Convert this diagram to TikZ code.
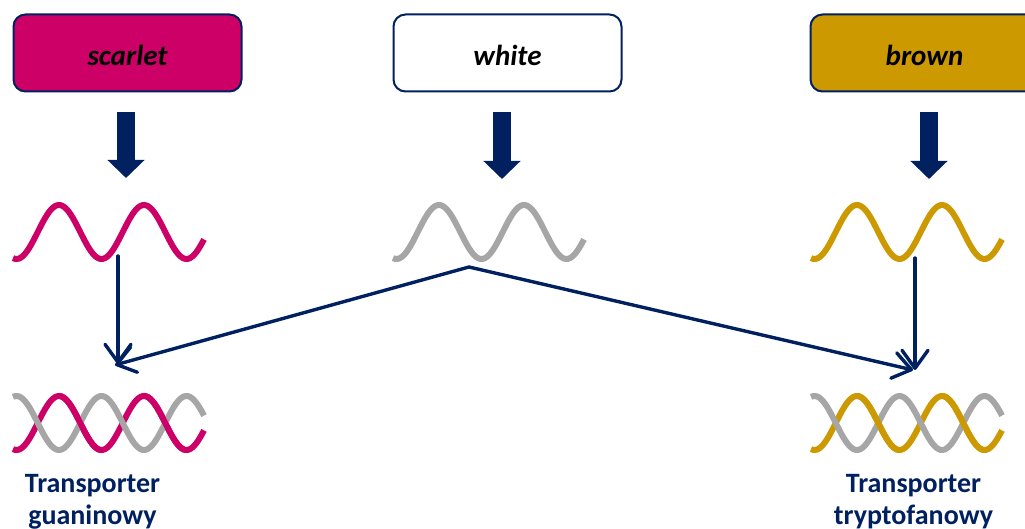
\documentclass[tikz,border=0pt]{standalone}
\usepackage{fontspec}
\setmainfont{Carlito}
\usetikzlibrary{arrows.meta}
\definecolor{scarletC}{HTML}{CC0066}
\definecolor{brownC}{HTML}{CC9900}
\definecolor{greyC}{HTML}{A6A6A6}
\definecolor{navyC}{HTML}{002060}
% one sine-like strand: #1 style, #2 left x, #3 centre line y, #4 +1/-1 phase
% period 85, so 360/85 = 4.235294 degrees per unit
\newcommand\dnastrand[4]{%
  \draw[#1] plot[domain=0:191, samples=97, smooth]
    ({#2+\x},{#3+#4*27*cos(4.235294*(\x-173.5))});}
\begin{document}
\begin{tikzpicture}[x=1pt,y=-1pt,
  gene/.style={draw=navyC, line width=2pt, rounded corners=12pt,
    minimum width=228pt, minimum height=77pt, inner sep=0pt,
    font=\fontsize{29}{34}\selectfont\bfseries\itshape,
    text height=26pt, text depth=0pt},
  blockarrow/.style={draw=navyC, line width=18pt,
    -{Triangle[length=18pt, width=36pt]}},
  link/.style={draw=navyC, line width=3.4pt, line cap=round,
    -{Straight Barb[length=18pt, width=26pt, round]}},
  wave/.style={line width=6pt},
  caption/.style={text=navyC, anchor=north, align=center, inner sep=0pt,
    font=\fontsize{28}{32}\selectfont\bfseries}
]
\useasboundingbox (0,0) rectangle (1025,529);
\clip (0,0) rectangle (1025,529);

% gene boxes
\node[gene, fill=scarletC] (scarlet) at (127.5,53) {scarlet};
\node[gene, fill=white]    (white)   at (507.5,53) {white};
\node[gene, fill=brownC]   (brown)   at (924.5,53) {brown};

% expression arrows
\coordinate (sA) at (126,112); \coordinate (sB) at (126,178);
\coordinate (wA) at (502,112); \coordinate (wB) at (502,179);
\coordinate (bA) at (929,112); \coordinate (bB) at (929,179);
\draw[blockarrow] (sA) -- (sB);
\draw[blockarrow] (wA) -- (wB);
\draw[blockarrow] (bA) -- (bB);

% single products
\dnastrand{wave, scarletC}{13}{232}{1}
\dnastrand{wave, greyC}{393}{232}{1}
\dnastrand{wave, brownC}{811}{232}{1}

% dimers
\dnastrand{wave, scarletC}{13}{423}{1}
\dnastrand{wave, greyC}{13}{423}{-1}
\begin{scope}
  \clip (60,380) rectangle (100,470) (145,380) rectangle (185,470);
  \dnastrand{wave, scarletC}{13}{423}{1}
\end{scope}
\dnastrand{wave, brownC}{811}{423}{1}
\dnastrand{wave, greyC}{811}{423}{-1}
\begin{scope}
  \clip (858,380) rectangle (898,470) (943,380) rectangle (983,470);
  \dnastrand{wave, brownC}{811}{423}{1}
\end{scope}

% assembly arrows
\coordinate (sOut) at (118,256);
\coordinate (wOut) at (469,267);
\coordinate (bOut) at (915,258);
\coordinate (gIn)  at (118,364);
\coordinate (gInD) at (115,365);
\coordinate (tIn)  at (915,370);
\coordinate (tInD) at (913,370);
\draw[link] (sOut) -- (gIn);
\draw[link] (wOut) -- (gInD);
\draw[link] (bOut) -- (tIn);
\draw[link] (wOut) -- (tInD);

% captions
\node[caption] (guan) at (92.5,474.5) {Transporter\\guaninowy};
\node[caption] (tryp) at (913.5,474.5) {Transporter\\tryptofanowy};
\end{tikzpicture}
\end{document}
